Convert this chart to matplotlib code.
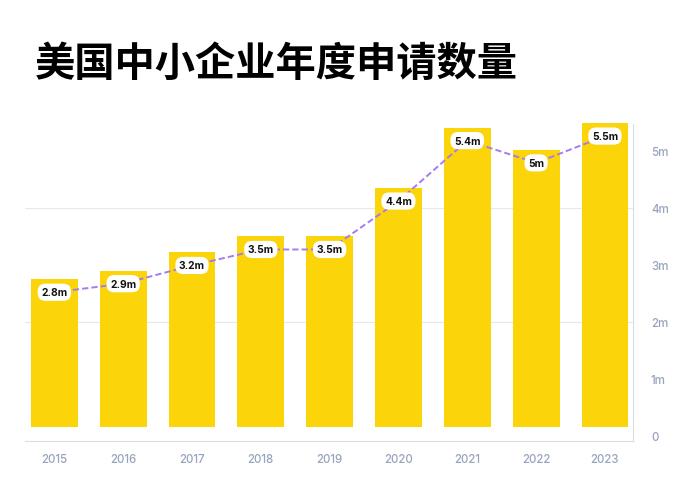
import matplotlib
matplotlib.use("Agg")
import matplotlib.pyplot as plt
from matplotlib.transforms import offset_copy

years = ['2015', '2016', '2017', '2018', '2019', '2020', '2021', '2022', '2023']
apps = [2.75, 2.9, 3.22, 3.5, 3.5, 4.35, 5.41, 5.02, 5.49]
labels = ['2.8m', '2.9m', '3.2m', '3.5m', '3.5m', '4.4m', '5.4m', '5m', '5.5m']
yticks = [0, 1, 2, 3, 4, 5]
ytick_labels = ['0', '1m', '2m', '3m', '4m', '5m']

bar_color = '#FBD40A'
line_color = '#A57BF0'
tick_color = '#98A3BC'
base = 0.16  # bars start a little above zero

plt.rcParams['font.family'] = ['Inter', 'DejaVu Sans']

fig = plt.figure(figsize=(6.8, 4.81), dpi=100)
ax = fig.add_axes([0.0368, 0.0811, 0.894, 0.674])

x = list(range(len(years)))
ax.bar(x, [v - base for v in apps], bottom=base, width=0.68, color=bar_color, zorder=2)

# line + labels sit a bit below the bar tops
tr = offset_copy(ax.transData, fig=fig, y=-13, units='dots')
ax.plot(x, apps, transform=tr, color=line_color, lw=1.4, dashes=(3.2, 1.6), zorder=3)
for xi, v, lab in zip(x, apps, labels):
    ax.text(xi, v, lab, transform=tr, ha='center', va='center', fontsize=7.4,
            fontweight='bold', color='#111111', zorder=4,
            bbox=dict(boxstyle='round,pad=0.35,rounding_size=0.75', fc='white', ec='none'))

ax.set_xlim(-0.426, 8.407)
ax.set_ylim(-0.088, 5.6)
ax.yaxis.tick_right()
ax.set_yticks(yticks)
ax.set_yticklabels(ytick_labels)
ax.set_xticks(x)
ax.set_xticklabels(years)
ax.tick_params(axis='both', length=0, colors=tick_color, labelsize=8.3)
ax.tick_params(axis='y', pad=13)
ax.tick_params(axis='x', pad=9)
for t in ax.get_xticklabels() + ax.get_yticklabels():
    t.set_fontweight('medium')

for g in [2, 4]:
    ax.axhline(g, color='#E6E8F1', lw=0.8, zorder=1)

for s in ['top', 'left']:
    ax.spines[s].set_visible(False)
ax.spines['bottom'].set_color('#D9DDE7')
ax.spines['right'].set_color('#D9DDE7')
ax.spines['right'].set_bounds(-0.088, 5.47)

fig.text(0.0515, 0.866, '美国中小企业年度申请数量', fontsize=29, fontweight='bold',
         family=['Noto Sans CJK SC', 'DejaVu Sans'], va='center', ha='left', color='black')

fig.savefig('out.png', dpi=100, facecolor='white')
